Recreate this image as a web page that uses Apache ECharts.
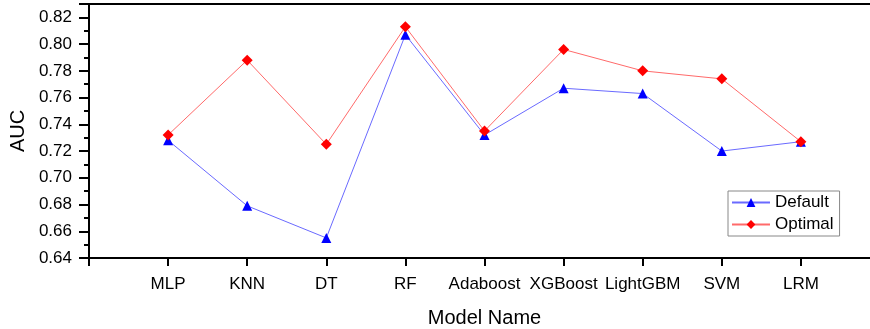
<!DOCTYPE html>
<html>
<head>
<meta charset="utf-8">
<script src="https://cdn.jsdelivr.net/npm/echarts@6/dist/echarts.min.js"></script>
<style>html,body{margin:0;padding:0;background:#fff;}#c{width:870px;height:329px;}</style>
</head>
<body>
<div id="c"></div>
<script>
const categories = ['MLP','KNN','DT','RF','Adaboost','XGBoost','LightGBM','SVM','LRM'];
const defaultAUC = [0.728, 0.679, 0.655, 0.807, 0.732, 0.767, 0.763, 0.720, 0.727];
const optimalAUC = [0.732, 0.788, 0.725, 0.813, 0.735, 0.796, 0.780, 0.774, 0.727];
const yTicks = ['0.64','0.66','0.68','0.70','0.72','0.74','0.76','0.78','0.80','0.82'];

const font = 'Liberation Sans, Arial, sans-serif';
const toPairs = arr => arr.map((v, i) => [i + 1, v]);

const chart = echarts.init(document.getElementById('c'), null, {renderer: 'canvas'});
chart.setOption({
  animation: false,
  backgroundColor: '#fff',
  grid: {
    left: 89, top: 4, width: 791, bottom: 71,
    outerBoundsMode: 'none',
    containLabel: false,
    show: true, borderColor: '#000', borderWidth: 2, backgroundColor: 'transparent'
  },
  legend: {
    orient: 'vertical',
    left: 728, top: 191,
    borderColor: '#888', borderWidth: 1, borderRadius: 0,
    padding: [3, 6, 3, 3],
    itemGap: 5,
    itemWidth: 38, itemHeight: 11,
    textStyle: {fontFamily: font, fontSize: 17, color: '#000'},
    data: ['Default', 'Optimal']
  },
  xAxis: {
    type: 'value',
    min: 0, max: 10, interval: 1,
    name: 'Model Name',
    nameLocation: 'middle',
    nameGap: 50,
    nameTextStyle: {fontFamily: font, fontSize: 20, color: '#000'},
    axisLine: {show: true, onZero: false, lineStyle: {color: '#000', width: 2}},
    axisTick: {show: true, inside: false, length: 8, lineStyle: {color: '#000', width: 2}},
    axisLabel: {
      fontFamily: font, fontSize: 17, color: '#000', margin: 18,
      formatter: v => (v >= 1 && v <= categories.length) ? categories[v - 1] : ''
    },
    splitLine: {show: false}
  },
  yAxis: {
    type: 'value',
    min: 0.64, max: 0.83, interval: 0.02,
    name: 'AUC',
    nameLocation: 'middle',
    nameGap: 56,
    nameTextStyle: {fontFamily: font, fontSize: 20, color: '#000'},
    axisLine: {show: true, lineStyle: {color: '#000', width: 2}},
    axisTick: {show: true, inside: false, length: 10, lineStyle: {color: '#000', width: 2}},
    minorTick: {show: true, splitNumber: 2, length: 5, lineStyle: {color: '#000', width: 2}},
    axisLabel: {
      fontFamily: font, fontSize: 17, color: '#000', margin: 17,
      showMaxLabel: false,
      formatter: v => {
        const s = v.toFixed(2);
        return yTicks.indexOf(s) >= 0 ? s : '';
      }
    },
    splitLine: {show: false}
  },
  series: [
    {
      name: 'Default',
      type: 'line',
      data: toPairs(defaultAUC),
      symbol: 'triangle',
      symbolSize: 10,
      lineStyle: {color: '#6a6aff', width: 1},
      itemStyle: {color: '#0000ff'},
      z: 2
    },
    {
      name: 'Optimal',
      type: 'line',
      data: toPairs(optimalAUC),
      symbol: 'diamond',
      symbolSize: 11,
      lineStyle: {color: '#ff6a6a', width: 1},
      itemStyle: {color: '#ff0000'},
      z: 3
    }
  ]
});
</script>
</body>
</html>
